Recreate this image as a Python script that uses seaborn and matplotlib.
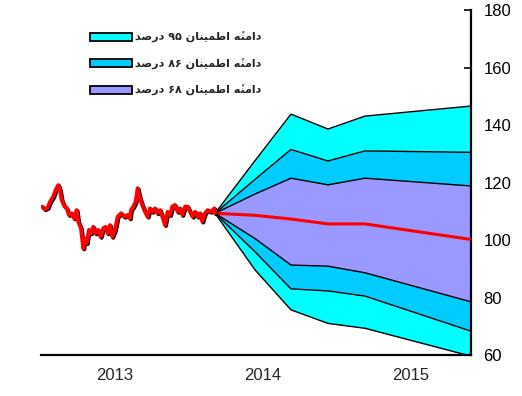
import numpy as np
import pandas as pd
import matplotlib
matplotlib.use("Agg")
import matplotlib.pyplot as plt
import matplotlib.patheffects as pe
from matplotlib.patches import Patch
import seaborn as sns

# historical index
hist_year = [2013.009, 2013.027, 2013.045, 2013.061, 2013.083, 2013.099, 2013.117, 2013.128,
             2013.140, 2013.157, 2013.174, 2013.189, 2013.207, 2013.225, 2013.241, 2013.252,
             2013.270, 2013.286, 2013.297, 2013.309, 2013.324, 2013.338, 2013.353, 2013.370,
             2013.387, 2013.403, 2013.421, 2013.437, 2013.451, 2013.466, 2013.482, 2013.500,
             2013.518, 2013.541, 2013.563, 2013.586, 2013.601, 2013.608, 2013.624, 2013.640,
             2013.653, 2013.669, 2013.684, 2013.703, 2013.721, 2013.736, 2013.752, 2013.770,
             2013.788, 2013.804, 2013.820, 2013.838, 2013.855, 2013.872, 2013.887, 2013.905,
             2013.924, 2013.939, 2013.955, 2013.973, 2013.991, 2014.007, 2014.025, 2014.041,
             2014.059, 2014.074, 2014.090, 2014.108, 2014.126, 2014.149, 2014.171, 2014.176]
hist_value = [111.6, 110.7, 111.2, 113.3, 115.1, 117.4, 119.1, 117.4,
              113.9, 111.9, 111.0, 108.7, 109.3, 107.5, 110.4, 106.4,
              104.1, 97.1, 100.6, 98.9, 103.5, 102.3, 104.6, 102.3,
              103.5, 101.1, 104.1, 104.6, 102.3, 105.2, 101.1, 103.5,
              108.1, 109.3, 108.1, 108.7, 107.5, 110.4, 111.6, 113.3,
              118.0, 114.5, 112.2, 109.8, 108.1, 111.0, 109.8, 111.0,
              109.3, 110.4, 108.1, 105.2, 109.8, 108.7, 111.6, 112.2,
              109.8, 111.0, 108.7, 111.6, 111.6, 109.8, 108.1, 109.8,
              108.1, 109.3, 106.4, 109.3, 110.4, 109.8, 111.0, 109.3]

# forecast fan
fan_year = [2014.176, 2014.446, 2014.689, 2014.939, 2015.189, 2015.905]
median = [109.3, 108.6, 107.3, 105.6, 105.6, 100.2]
up95 = [109.3, 127.6, 143.8, 138.6, 143.1, 146.6]
up86 = [109.3, 121.1, 131.5, 127.5, 131.0, 130.5]
up68 = [109.3, 116.0, 121.5, 119.2, 121.5, 118.8]
lo68 = [109.3, 100.5, 91.3, 90.9, 88.6, 78.5]
lo86 = [109.3, 95.9, 83.0, 82.3, 80.5, 68.3]
lo95 = [109.3, 89.6, 75.7, 71.0, 69.3, 59.6]

band_labels = ["دامنهٔ اطمینان ۹۵ درصد", "دامنهٔ اطمینان ۸۶ درصد", "دامنهٔ اطمینان ۶۸ درصد"]
band_colors = ["#00FFFF", "#00CCFF", "#9999FF"]
year_labels = ["2013", "2014", "2015"]
y_ticks = [60, 80, 100, 120, 140, 160, 180]

# matplotlib has no arabic shaping -> pick presentation forms by hand
FORMS = {
    "\u0627": ("\uFE8D", "\uFE8E", None, None),
    "\u062F": ("\uFEA9", "\uFEAA", None, None),
    "\u0631": ("\uFEAD", "\uFEAE", None, None),
    "\u0645": ("\uFEE1", "\uFEE2", "\uFEE3", "\uFEE4"),
    "\u0646": ("\uFEE5", "\uFEE6", "\uFEE7", "\uFEE8"),
    "\u0647": ("\uFEE9", "\uFEEA", "\uFEEB", "\uFEEC"),
    "\u0637": ("\uFEC1", "\uFEC2", "\uFEC3", "\uFEC4"),
    "\u0635": ("\uFEB9", "\uFEBA", "\uFEBB", "\uFEBC"),
    "\u06CC": ("\uFBFC", "\uFBFD", "\uFBFE", "\uFBFF"),
}
MARKS = {"\u0654"}


def shape_word(w):
    if w[0] not in FORMS:
        return w
    letters = []   # [base, marks]
    for c in w:
        if c in MARKS:
            letters[-1][1] += c
        else:
            letters.append([c, ""])
    out = []
    n = len(letters)
    for i, (c, m) in enumerate(letters):
        f = FORMS[c]
        prev_j = i > 0 and FORMS[letters[i - 1][0]][2] is not None
        next_j = i < n - 1 and f[2] is not None
        if prev_j and next_j:
            g = f[3]
        elif prev_j:
            g = f[1]
        elif next_j:
            g = f[2]
        else:
            g = f[0]
        out.append(g + m)
    return "".join(reversed(out))


def rtl(text):
    return " ".join(shape_word(w) for w in reversed(text.split()))


sns.set_style("white")
plt.rcParams["font.family"] = ["Liberation Sans", "DejaVu Sans"]

fig = plt.figure(figsize=(5.22, 3.96), dpi=100)
ax = fig.add_axes([0.0785, 0.1035, 0.8238, 0.8712])

bands = [(lo95, up95), (lo86, up86), (lo68, up68)]
for (lo, up), col in zip(bands, band_colors):
    ax.fill_between(fan_year, lo, up, color=col, lw=0, zorder=1)
for edge in [up95, up86, up68, lo68, lo86, lo95]:
    sns.lineplot(x=fan_year, y=edge, color="black", lw=1.0, ax=ax, zorder=2)

sns.lineplot(x=fan_year, y=median, color="red", lw=2.2, ax=ax, zorder=3)
sns.lineplot(x=hist_year, y=hist_value, color="red", lw=2.8, ax=ax, zorder=3,
             path_effects=[pe.SimpleLineShadow(offset=(0.7, -0.7), shadow_color="black", alpha=1.0),
                           pe.Normal()])

ax.set_xlim(2013.0, 2015.905)
ax.set_ylim(60, 180)

for side in ["top", "left"]:
    ax.spines[side].set_visible(False)
for side in ["bottom", "right"]:
    ax.spines[side].set_color("black")
    ax.spines[side].set_linewidth(1.6)

ax.yaxis.tick_right()
ax.set_yticks(y_ticks)
ax.tick_params(axis="y", direction="in", length=5, width=1.2, labelsize=12, pad=9, colors="black")

ax.set_xticks([2013, 2014, 2015])
ax.set_xticklabels([])
ax.set_xticks([2013.5, 2014.5, 2015.5], minor=True)
ax.set_xticklabels(year_labels, minor=True)
ax.tick_params(axis="x", which="major", direction="in", length=5, width=1.2, colors="black")
ax.tick_params(axis="x", which="minor", length=0, labelsize=12, pad=9)
ax.set_xlabel("")
ax.set_ylabel("")

handles = [Patch(facecolor=c, edgecolor="black", lw=1.3) for c in band_colors]
ax.legend(handles, [rtl(t) for t in band_labels], loc="upper left",
          bbox_to_anchor=(0.115, 0.937), frameon=False, borderpad=0, borderaxespad=0,
          handlelength=3.7, handleheight=0.75, handletextpad=0.3, labelspacing=1.4,
          prop={"family": ["DejaVu Sans"], "weight": "bold", "size": 8})

fig.savefig("out.png", dpi=100)
